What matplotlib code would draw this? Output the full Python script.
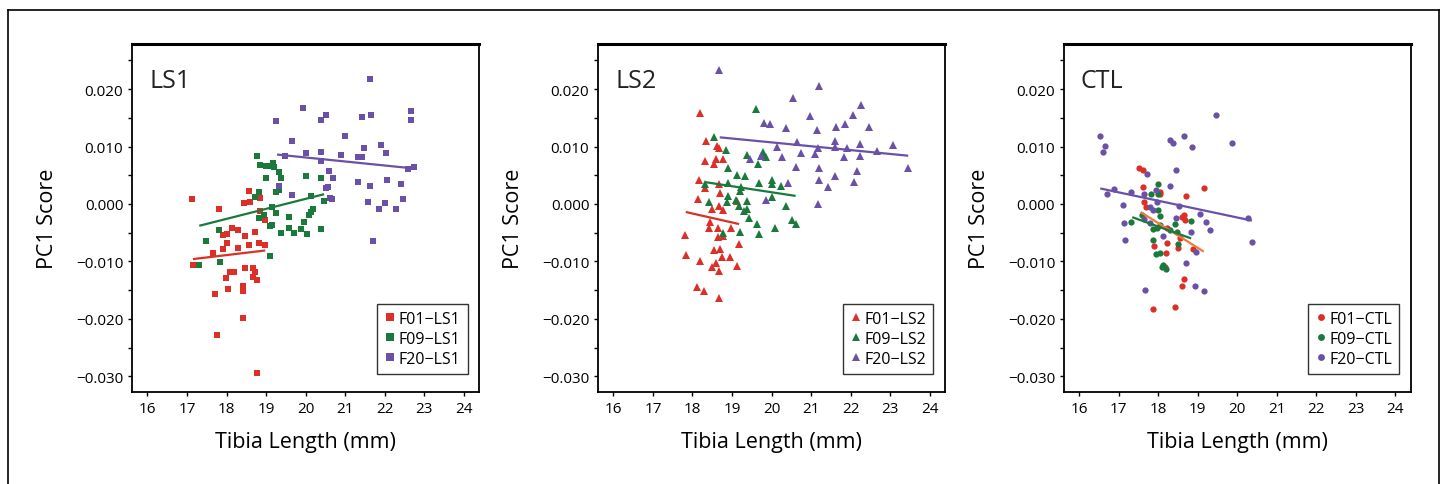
import matplotlib
matplotlib.use("Agg")
from matplotlib import pyplot as plt
from matplotlib.lines import Line2D

plt.rcParams['font.family'] = ['Open Sans', 'DejaVu Sans']

# ---- LS1 (squares) ----
ls1_f01_x = [17.13, 17.80, 18.57, 18.43, 18.60, 18.84, 18.85, 18.98, 18.13, 18.28, 17.92, 18.01,
             18.71, 18.48, 18.01, 17.92, 17.67, 18.30, 18.58, 18.81, 18.98, 17.15, 18.08, 18.19,
             18.46, 18.67, 18.73, 17.98, 18.68, 18.78, 17.70, 18.03, 18.41, 18.41, 18.41, 17.75, 18.76]
ls1_f01_y = [0.0009, -0.0008, 0.0023, 0.0001, 0.0004, 0.0010, -0.0012, -0.0028, -0.0042, -0.0046,
             -0.0054, -0.0053, -0.0048, -0.0055, -0.0068, -0.0079, -0.0086, -0.0077, -0.0072, -0.0068,
             -0.0072, -0.0107, -0.0118, -0.0118, -0.0112, -0.0112, -0.0118, -0.0129, -0.0128, -0.0133,
             -0.0156, -0.0148, -0.0142, -0.0151, -0.0199, -0.0228, -0.0295]
ls1_f09_x = [18.78, 18.86, 19.00, 19.11, 19.17, 19.21, 19.34, 19.38, 18.99, 18.83, 18.71, 19.24, 19.34,
             20.00, 20.40, 20.15, 20.47, 19.14, 19.26, 18.82, 18.96, 19.11, 19.14, 19.58, 20.18, 20.14,
             20.09, 19.97, 17.80, 17.47, 19.39, 19.58, 19.70, 19.89, 20.03, 20.38, 17.31, 17.84, 19.09]
ls1_f09_y = [0.0084, 0.0067, 0.0066, 0.0066, 0.0071, 0.0065, 0.0056, 0.0045, 0.0045, 0.0020, 0.0012,
             0.0021, 0.0024, 0.0048, 0.0046, 0.0013, 0.0006, -0.0006, -0.0015, -0.0025, -0.0019,
             -0.0038, -0.0037, -0.0022, -0.0008, -0.0014, -0.0019, -0.0031, -0.0046, -0.0064, -0.0050,
             -0.0042, -0.0051, -0.0044, -0.0052, -0.0044, -0.0107, -0.0101, -0.0090]
ls1_f20_x = [21.64, 19.94, 20.40, 20.53, 21.44, 21.65, 22.68, 22.66, 19.26, 19.65, 21.01, 21.47, 21.92,
             22.03, 20.00, 20.40, 20.91, 21.32, 21.42, 19.49, 20.38, 22.75, 22.60, 20.60, 20.70, 19.32,
             20.57, 20.51, 21.34, 21.62, 22.05, 22.41, 19.65, 20.63, 20.68, 21.57, 22.02, 22.46, 21.87,
             22.28, 21.72]
ls1_f20_y = [0.0217, 0.0167, 0.0147, 0.0155, 0.0152, 0.0155, 0.0162, 0.0147, 0.0144, 0.0110, 0.0119,
             0.0098, 0.0103, 0.0088, 0.0089, 0.0091, 0.0086, 0.0081, 0.0082, 0.0083, 0.0074, 0.0065,
             0.0060, 0.0058, 0.0046, 0.0032, 0.0029, 0.0027, 0.0039, 0.0032, 0.0041, 0.0035, 0.0015,
             0.0011, 0.0009, 0.0004, 0.0002, 0.0008, -0.0008, -0.0008, -0.0065]
ls1_fit_f01 = ([17.15, 18.98], [-0.0096, -0.0081])
ls1_fit_f09 = ([17.31, 20.47], [-0.0038, 0.0017])
ls1_fit_f20 = ([19.28, 22.57], [0.0086, 0.0063])

# ---- LS2 (triangles) ----
ls2_f01_x = [18.19, 18.34, 18.63, 18.67, 18.32, 18.59, 18.78, 18.55, 18.17, 18.32, 18.67, 18.69, 18.14,
             18.50, 18.67, 18.76, 19.13, 18.45, 18.42, 18.64, 18.97, 18.65, 18.76, 17.82, 17.83, 18.55,
             18.69, 18.74, 18.95, 19.18, 18.18, 18.49, 18.59, 18.67, 19.13, 18.11, 18.28, 18.67]
ls2_f01_y = [0.0158, 0.0110, 0.0101, 0.0097, 0.0074, 0.0079, 0.0078, 0.0070, 0.0042, 0.0027, 0.0034,
             0.0019, 0.0009, -0.0009, -0.0003, -0.0010, 0.0006, -0.0031, -0.0041, -0.0041, -0.0041,
             -0.0058, -0.0056, -0.0054, -0.0089, -0.0080, -0.0078, -0.0092, -0.0093, -0.0070, -0.0100,
             -0.0109, -0.0103, -0.0117, -0.0108, -0.0145, -0.0152, -0.0164]
ls2_f09_x = [19.61, 18.55, 18.86, 19.39, 19.79, 19.76, 19.85, 19.66, 18.91, 19.13, 19.34, 18.32, 18.91,
             19.23, 19.68, 20.02, 20.00, 20.25, 19.20, 18.91, 19.09, 19.39, 20.02, 18.42, 18.87, 19.18,
             19.37, 19.30, 20.37, 19.43, 20.52, 20.61, 19.64, 20.10, 18.78, 19.19, 19.68]
ls2_f09_y = [0.0165, 0.0117, 0.0094, 0.0085, 0.0091, 0.0086, 0.0081, 0.0069, 0.0063, 0.0050, 0.0049,
             0.0035, 0.0036, 0.0029, 0.0036, 0.0042, 0.0035, 0.0031, 0.0023, 0.0014, 0.0007, 0.0006,
             0.0012, 0.0004, 0.0004, -0.0003, -0.0008, -0.0012, -0.0003, -0.0025, -0.0028, -0.0035,
             -0.0035, -0.0042, -0.0051, -0.0049, -0.0053]
ls2_f20_x = [18.67, 21.21, 20.55, 22.26, 20.98, 22.06, 19.81, 19.95, 21.87, 21.64, 22.47, 20.37, 21.15,
             20.65, 21.61, 23.07, 20.14, 21.18, 21.61, 21.92, 22.24, 22.66, 20.74, 21.09, 22.23, 20.27,
             21.84, 19.45, 19.74, 23.46, 20.62, 21.21, 22.16, 21.60, 21.21, 20.41, 21.42, 22.09, 19.87,
             21.17]
ls2_f20_y = [0.0233, 0.0205, 0.0184, 0.0172, 0.0154, 0.0155, 0.0141, 0.0140, 0.0139, 0.0134, 0.0134,
             0.0132, 0.0128, 0.0108, 0.0110, 0.0103, 0.0100, 0.0098, 0.0100, 0.0097, 0.0104, 0.0093,
             0.0088, 0.0087, 0.0084, 0.0081, 0.0081, 0.0078, 0.0084, 0.0063, 0.0065, 0.0062, 0.0058,
             0.0049, 0.0041, 0.0036, 0.0030, 0.0039, 0.0007, 0.0000]
ls2_fit_f01 = ([17.83, 19.18], [-0.0014, -0.0035])
ls2_fit_f09 = ([18.32, 20.61], [0.0038, 0.0014])
ls2_fit_f20 = ([18.69, 23.46], [0.0116, 0.0084])

# ---- CTL (circles) ----
ctl_f01_x = [17.52, 17.62, 17.62, 18.05, 18.05, 18.69, 19.15, 17.65, 17.70, 18.64, 18.68, 18.59, 18.22,
             18.55, 18.23, 17.88, 18.20, 18.49, 18.87, 18.18, 18.64, 18.61, 17.87, 18.43]
ctl_f01_y = [0.0062, 0.0059, 0.0029, 0.0021, 0.0017, 0.0013, 0.0027, 0.0004, -0.0006, -0.0019, -0.0028,
             -0.0022, -0.0041, -0.0060, -0.0068, -0.0074, -0.0085, -0.0077, -0.0079, -0.0109, -0.0131,
             -0.0142, -0.0183, -0.0179]
ctl_f09_x = [18.00, 17.82, 17.98, 17.99, 18.05, 18.83, 18.41, 17.31, 17.59, 18.05, 17.87, 17.97, 18.30,
             18.47, 17.87, 18.49, 18.03, 17.95, 18.09, 18.20, 18.13]
ctl_f09_y = [0.0035, 0.0017, 0.0017, -0.0010, -0.0021, -0.0030, -0.0035, -0.0032, -0.0020, -0.0037,
             -0.0043, -0.0041, -0.0045, -0.0048, -0.0063, -0.0069, -0.0085, -0.0087, -0.0109, -0.0114,
             -0.0107]
ctl_f20_x = [19.47, 16.52, 16.64, 16.60, 18.30, 18.36, 18.64, 18.85, 19.86, 17.72, 18.45, 18.30, 17.95,
             16.88, 16.69, 17.30, 17.65, 17.97, 17.10, 17.80, 17.87, 18.52, 19.05, 20.28, 17.13, 19.20,
             17.80, 18.45, 17.63, 18.82, 19.32, 18.13, 17.15, 20.37, 18.95, 18.69, 18.93, 19.15, 17.67]
ctl_f20_y = [0.0155, 0.0118, 0.0101, 0.0090, 0.0112, 0.0106, 0.0118, 0.0100, 0.0107, 0.0053, 0.0059,
             0.0031, 0.0024, 0.0026, 0.0017, 0.0021, 0.0017, 0.0004, -0.0002, -0.0006, -0.0010, -0.0003,
             -0.0017, -0.0025, -0.0034, -0.0032, -0.0034, -0.0025, -0.0027, -0.0048, -0.0046, -0.0056,
             -0.0063, -0.0067, -0.0083, -0.0102, -0.0143, -0.0152, -0.0150]
ctl_fit_f01 = ([17.55, 19.15], [-0.0014, -0.0083])
ctl_fit_f09 = ([17.34, 18.83], [-0.0023, -0.0060])
ctl_fit_f20 = ([16.53, 20.37], [0.0027, -0.0029])

RED = '#dc2f27'
GREEN = '#1a7a3c'
PURPLE = '#6a50a7'
ORANGE = '#f27a3c'

panels = [
    ("LS1", "s", 5.0, [
        ("F01\u2212LS1", ls1_f01_x, ls1_f01_y, RED, ls1_fit_f01, RED),
        ("F09\u2212LS1", ls1_f09_x, ls1_f09_y, GREEN, ls1_fit_f09, GREEN),
        ("F20\u2212LS1", ls1_f20_x, ls1_f20_y, PURPLE, ls1_fit_f20, PURPLE)]),
    ("LS2", "^", 5.5, [
        ("F01\u2212LS2", ls2_f01_x, ls2_f01_y, RED, ls2_fit_f01, RED),
        ("F09\u2212LS2", ls2_f09_x, ls2_f09_y, GREEN, ls2_fit_f09, GREEN),
        ("F20\u2212LS2", ls2_f20_x, ls2_f20_y, PURPLE, ls2_fit_f20, PURPLE)]),
    ("CTL", "o", 4.5, [
        ("F01\u2212CTL", ctl_f01_x, ctl_f01_y, RED, ctl_fit_f01, ORANGE),
        ("F09\u2212CTL", ctl_f09_x, ctl_f09_y, GREEN, ctl_fit_f09, GREEN),
        ("F20\u2212CTL", ctl_f20_x, ctl_f20_y, PURPLE, ctl_fit_f20, PURPLE)]),
]

fig = plt.figure(figsize=(14.44, 4.85), dpi=100)

# outer frame
fig.add_artist(Line2D([0.0052, 0.0052], [0.0, 0.977], color='black', lw=1.2, transform=fig.transFigure))
fig.add_artist(Line2D([0.0052, 0.9965], [0.977, 0.977], color='black', lw=1.2, transform=fig.transFigure))
fig.add_artist(Line2D([0.9965, 0.9965], [0.0, 0.977], color='black', lw=1.2, transform=fig.transFigure))

lefts = [0.0912, 0.4139, 0.7365]
for left, (name, marker, msize, series) in zip(lefts, panels):
    ax = fig.add_axes([left, 0.189, 0.2405, 0.7188])
    for label, xs, ys, col, fit, fitcol in series:
        ax.plot(xs, ys, linestyle='none', marker=marker, markersize=msize,
                color=col, markeredgewidth=0, label=label)
    for label, xs, ys, col, fit, fitcol in series:
        ax.plot(fit[0], fit[1], color=fitcol, lw=1.6, solid_capstyle='butt')

    ax.set_xlim(15.6, 24.39)
    ax.set_ylim(-0.0328, 0.0279)
    ax.set_xticks(range(16, 25))
    ax.set_yticks([-0.030, -0.020, -0.010, 0.000, 0.010, 0.020])
    ax.set_yticklabels(['\u22120.030', '\u22120.020', '\u22120.010', '0.000', '0.010', '0.020'])
    ax.set_yticks([-0.025, -0.015, -0.005, 0.005, 0.015, 0.025], minor=True)
    ax.tick_params(axis='both', which='both', direction='out', length=3, width=1,
                   labelsize=11, pad=3)
    for side in ['left', 'bottom', 'right']:
        ax.spines[side].set_linewidth(1.3)
    ax.spines['top'].set_linewidth(2.2)

    ax.set_xlabel("Tibia Length (mm)", fontsize=15.5, labelpad=11)
    ax.set_ylabel("PC1 Score", fontsize=15.5, labelpad=13)
    ax.text(0.05, 0.93, name, transform=ax.transAxes, fontsize=18,
            ha='left', va='top', color='#222222')

    leg = ax.legend(loc='lower right', bbox_to_anchor=(0.99, 0.03), fontsize=11.5,
                    frameon=True, fancybox=False, edgecolor='black', handlelength=0.7,
                    handletextpad=0.2, borderpad=0.45, labelspacing=0.25, markerscale=1.1)
    leg.get_frame().set_linewidth(1.0)

fig.savefig("out.png", dpi=100)
